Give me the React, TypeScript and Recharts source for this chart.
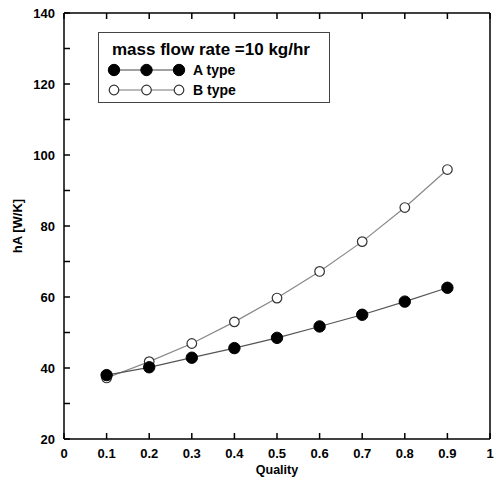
import React from "react";
import { LineChart, Line, XAxis, YAxis, Legend } from "recharts";

const quality = [0.1, 0.2, 0.3, 0.4, 0.5, 0.6, 0.7, 0.8, 0.9];
const aType = [38.0, 40.2, 42.9, 45.6, 48.5, 51.7, 55.0, 58.7, 62.6];
const bType = [37.2, 41.8, 46.9, 53.0, 59.7, 67.2, 75.6, 85.2, 95.9];
const xTicks = [0, 0.1, 0.2, 0.3, 0.4, 0.5, 0.6, 0.7, 0.8, 0.9, 1];
const yTicks = [20, 30, 40, 50, 60, 70, 80, 90, 100, 110, 120, 130, 140];
const legendTitle = "mass flow rate =10 kg/hr";
const seriesNames = ["A type", "B type"];

const data = quality.map((q, i) => ({ q, a: aType[i], b: bType[i] }));

const FONT = "'Liberation Sans', Arial, sans-serif";
const TL = 6;

const BottomTick = (props: any) => {
  const { x, y, payload } = props;
  return (
    <g>
      <line x1={x} x2={x} y1={y} y2={y - TL} stroke="#000" strokeWidth={1.5} />
      <text x={x} y={y + 18.5} textAnchor="middle" fontFamily={FONT} fontWeight="bold" fontSize={13} fill="#000">
        {String(payload.value)}
      </text>
    </g>
  );
};
const TopTick = (props: any) => {
  const { x, y } = props;
  return <line x1={x} x2={x} y1={y} y2={y + TL} stroke="#000" strokeWidth={1.5} />;
};
const LeftTick = (props: any) => {
  const { x, y, payload } = props;
  const show = payload.value % 20 === 0;
  return (
    <g>
      <line x1={x} x2={x + TL} y1={y} y2={y} stroke="#000" strokeWidth={1.5} />
      {show && (
        <text x={x - 9} y={y + 4.5} textAnchor="end" fontFamily={FONT} fontWeight="bold" fontSize={13} fill="#000">
          {String(payload.value)}
        </text>
      )}
    </g>
  );
};
const RightTick = (props: any) => {
  const { x, y } = props;
  return <line x1={x} x2={x - TL} y1={y} y2={y} stroke="#000" strokeWidth={1.5} />;
};

const LegendBox = () => (
  <div
    style={{
      width: 232,
      height: 71,
      boxSizing: "border-box",
      border: "1.5px solid #444",
      background: "#fff",
      position: "relative",
    }}
  >
    <svg width={230} height={69} style={{ position: "absolute", left: 0, top: 0 }}>
      <text x={13} y={22} fontFamily={FONT} fontWeight="bold" fontSize={17} fill="#000">
        {legendTitle}
      </text>
      <line x1={15} x2={80} y1={37} y2={37} stroke="#444" strokeWidth={1} />
      {[15, 47.5, 80].map((cx) => (
        <circle key={"a" + cx} cx={cx} cy={37} r={5.7} fill="#000" stroke="#000" />
      ))}
      <text x={94} y={42} fontFamily={FONT} fontWeight="bold" fontSize={14} fill="#000">
        {seriesNames[0]}
      </text>
      <line x1={15} x2={80} y1={57} y2={57} stroke="#777" strokeWidth={1} />
      {[15, 47.5, 80].map((cx) => (
        <circle key={"b" + cx} cx={cx} cy={57} r={4.8} fill="#fff" stroke="#333" strokeWidth={1.2} />
      ))}
      <text x={94} y={62} fontFamily={FONT} fontWeight="bold" fontSize={14} fill="#000">
        {seriesNames[1]}
      </text>
    </svg>
  </div>
);

export default function App() {
  return (
    <div style={{ position: "absolute", left: 0, top: 0, background: "#fff" }}>
      <LineChart width={496} height={485} data={data} margin={{ top: 12, right: 5, bottom: 0, left: 0 }}>
        <XAxis
          xAxisId="bottom"
          dataKey="q"
          type="number"
          domain={[0, 1]}
          ticks={xTicks}
          tickSize={0}
          tickMargin={0}
          tickLine={false}
          tick={<BottomTick />}
          axisLine={{ stroke: "#000", strokeWidth: 1.5 }}
          height={46}
          interval={0}
          label={{ value: "Quality", position: "insideBottom", offset: 11, fontFamily: FONT, fontWeight: "bold", fontSize: 12.5, fill: "#000" }}
        />
        <XAxis
          xAxisId="top"
          orientation="top"
          dataKey="q"
          type="number"
          domain={[0, 1]}
          ticks={xTicks}
          tickSize={0}
          tickMargin={0}
          tickLine={false}
          tick={<TopTick />}
          axisLine={{ stroke: "#000", strokeWidth: 1.5 }}
          height={1}
          interval={0}
        />
        <YAxis
          yAxisId="left"
          type="number"
          domain={[20, 140]}
          ticks={yTicks}
          tickSize={0}
          tickMargin={0}
          tickLine={false}
          tick={<LeftTick />}
          axisLine={{ stroke: "#000", strokeWidth: 1.5 }}
          width={64}
          interval={0}
          label={{ value: "hA [W/K]", angle: -90, position: "insideLeft", offset: 17, fontFamily: FONT, fontWeight: "bold", fontSize: 13, fill: "#000", style: { textAnchor: "middle" } }}
        />
        <YAxis
          yAxisId="right"
          orientation="right"
          type="number"
          domain={[20, 140]}
          ticks={yTicks}
          tickSize={0}
          tickMargin={0}
          tickLine={false}
          tick={<RightTick />}
          axisLine={{ stroke: "#000", strokeWidth: 1.5 }}
          width={1}
          interval={0}
        />
        <Legend
          layout="horizontal"
          verticalAlign="middle"
          align="center"
          content={<LegendBox />}
          wrapperStyle={{ left: 98, top: 32, width: 232, height: 71 }}
        />
        <Line
          xAxisId="bottom"
          yAxisId="left"
          dataKey="b"
          stroke="#888"
          strokeWidth={1.2}
          dot={{ r: 4.8, fill: "#fff", stroke: "#333", strokeWidth: 1.2 }}
          isAnimationActive={false}
        />
        <Line
          xAxisId="bottom"
          yAxisId="left"
          dataKey="a"
          stroke="#555"
          strokeWidth={1.2}
          dot={{ r: 5.7, fill: "#000", stroke: "#000", strokeWidth: 1 }}
          isAnimationActive={false}
        />
      </LineChart>
    </div>
  );
}
